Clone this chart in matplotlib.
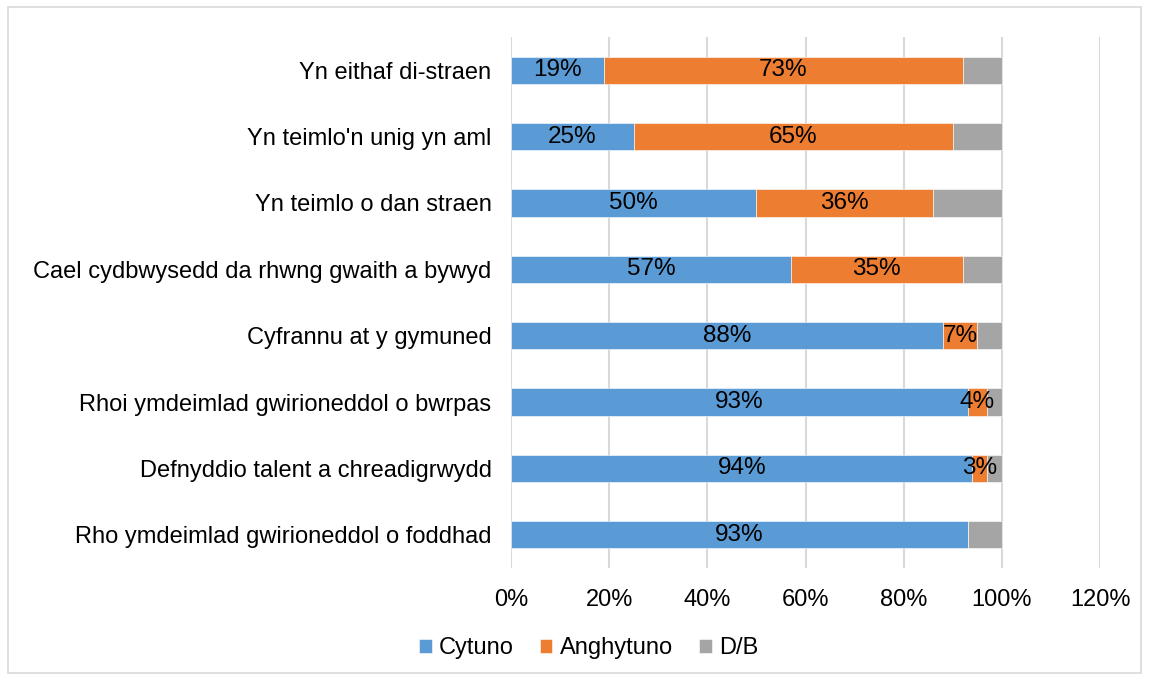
import matplotlib.pyplot as plt
import matplotlib.patches as mpatches
import numpy as np

plt.rcParams['font.family'] = ['Liberation Sans', 'DejaVu Sans']

# categories, top to bottom as in the chart
categories = [
    "Yn eithaf di-straen",
    "Yn teimlo'n unig yn aml",
    "Yn teimlo o dan straen",
    "Cael cydbwysedd da rhwng gwaith a bywyd",
    "Cyfrannu at y gymuned",
    "Rhoi ymdeimlad gwirioneddol o bwrpas",
    "Defnyddio talent a chreadigrwydd",
    "Rho ymdeimlad gwirioneddol o foddhad",
]
cytuno = [19, 25, 50, 57, 88, 93, 94, 93]
anghytuno = [73, 65, 36, 35, 7, 4, 3, 0]
db = [8, 10, 14, 8, 5, 3, 3, 7]

series_names = ["Cytuno", "Anghytuno", "D/B"]
colors = ["#5B9BD5", "#ED7D31", "#A5A5A5"]
xticks = [0, 20, 40, 60, 80, 100, 120]

fs = 17

fig = plt.figure(figsize=(11.49, 6.8), dpi=100)
ax = fig.add_axes([0.4447, 0.1647, 0.5127, 0.7809])

y = np.arange(len(categories))
left = np.zeros(len(categories))
bars = []
for vals, name, col in zip([cytuno, anghytuno, db], series_names, colors):
    vals = np.array(vals, dtype=float)
    b = ax.barh(y, vals, left=left, height=0.41, color=col, label=name,
                edgecolor='white', linewidth=0.4, zorder=3)
    bars.append((b, vals, left.copy()))
    left = left + vals

# data labels for Cytuno and Anghytuno only
for b, vals, lft in bars[:2]:
    for yi, v, l in zip(y, vals, lft):
        if v <= 0:
            continue
        ax.text(l + v / 2, yi, f"{int(v)}%", ha='center', va='center',
                fontsize=17.5, color='black', zorder=4)

ax.set_xlim(0, 120)
ax.set_ylim(len(categories) - 0.5, -0.5)
ax.set_xticks(xticks)
ax.set_xticklabels([f"{t}%" for t in xticks], fontsize=fs)
ax.set_yticks(y)
ax.set_yticklabels(categories, fontsize=fs)
ax.tick_params(axis='y', length=0, pad=14)
ax.tick_params(axis='x', length=0, pad=15)
ax.grid(axis='x', color='#D9D9D9', linewidth=1.5, zorder=0)
for s in ax.spines.values():
    s.set_visible(False)

leg = fig.legend(loc='center', bbox_to_anchor=(0.512, 0.047), ncol=3,
                 frameon=False, fontsize=fs, handlelength=0.55,
                 handleheight=0.55, handletextpad=0.3, columnspacing=1.1)

# light border round the chart
fig.patches.append(mpatches.Rectangle((0.007, 0.01), 0.986, 0.98,
                                      transform=fig.transFigure, fill=False,
                                      edgecolor='#D9D9D9', linewidth=1.2))

fig.savefig("out.png", dpi=100)
